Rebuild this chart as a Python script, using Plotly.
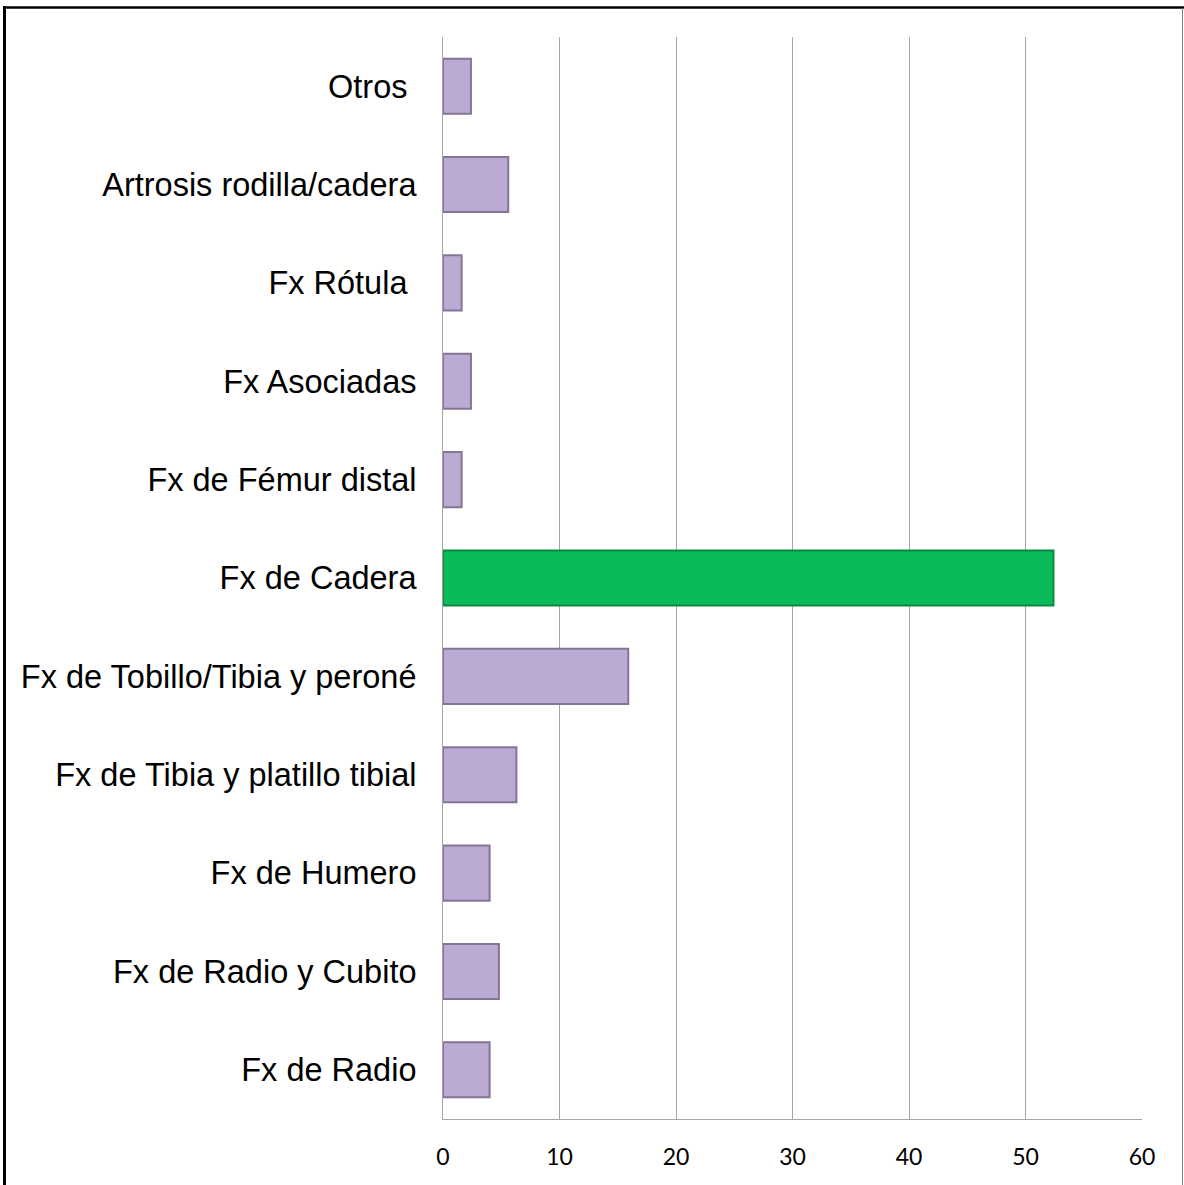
import plotly.graph_objects as go

categories = [
    "Fx de Radio",
    "Fx de Radio y Cubito",
    "Fx de Humero",
    "Fx de Tibia y platillo tibial",
    "Fx de Tobillo/Tibia y peroné",
    "Fx de Cadera",
    "Fx de Fémur distal",
    "Fx Asociadas",
    "Fx Rótula\u00a0",
    "Artrosis rodilla/cadera",
    "Otros\u00a0",
]
values = [4.0, 4.8, 4.0, 6.3, 15.9, 52.4, 1.6, 2.4, 1.6, 5.6, 2.4]
highlight = "Fx de Cadera"

x_ticks = [0, 10, 20, 30, 40, 50, 60]

colors = ["#0BBA58" if c == highlight else "#BBAAD3" for c in categories]
line_colors = ["#078A40" if c == highlight else "#857595" for c in categories]

W, H = 1184, 1185
ml, mr, mt, mb = 443, 42, 37, 66

fig = go.Figure(go.Bar(
    y=categories,
    x=values,
    orientation="h",
    width=0.56,
    marker=dict(color=colors, line=dict(color=line_colors, width=2)),
    hoverinfo="x+y",
))

pw = W - ml - mr
ph = H - mt - mb


def px_x(p):
    return (p - ml) / pw


def px_y(p):
    return (H - mb - p) / ph


# chart frame: black left/top, thin gray right
fig.add_shape(type="line", xref="paper", yref="paper",
              x0=px_x(4.5), x1=px_x(4.5), y0=px_y(H + 5), y1=px_y(6),
              line=dict(color="black", width=3), layer="below")
fig.add_shape(type="line", xref="paper", yref="paper",
              x0=px_x(3), x1=px_x(W + 5), y0=px_y(7.5), y1=px_y(7.5),
              line=dict(color="black", width=2.5), layer="below")
fig.add_shape(type="line", xref="paper", yref="paper",
              x0=px_x(1182.5), x1=px_x(1182.5), y0=px_y(H + 5), y1=px_y(8),
              line=dict(color="#808080", width=1), layer="below")

fig.update_layout(
    width=W, height=H,
    margin=dict(l=ml, r=mr, t=mt, b=mb),
    paper_bgcolor="white",
    plot_bgcolor="white",
    showlegend=False,
    bargap=0.44,
    xaxis=dict(
        range=[0, 60],
        tickvals=x_ticks,
        ticktext=[str(v) for v in x_ticks],
        showgrid=True, gridcolor="#A6A6A6", gridwidth=1,
        zeroline=False,
        showline=True, linecolor="#A6A6A6", linewidth=1,
        ticks="", ticklabelstandoff=17,
        tickfont=dict(family="Lato, Carlito, sans-serif", size=23, color="black"),
        fixedrange=True,
    ),
    yaxis=dict(
        categoryorder="array", categoryarray=categories,
        showgrid=False, zeroline=False,
        showline=True, linecolor="#A6A6A6", linewidth=1,
        ticks="", ticklabelstandoff=19,
        tickfont=dict(family="Liberation Sans, Arial, sans-serif", size=32.5, color="black"),
        fixedrange=True,
    ),
)

fig.write_html(
    "out.html",
    config={"displayModeBar": False},
    post_script="document.body.style.margin='0';document.body.style.overflow='hidden';",
)
